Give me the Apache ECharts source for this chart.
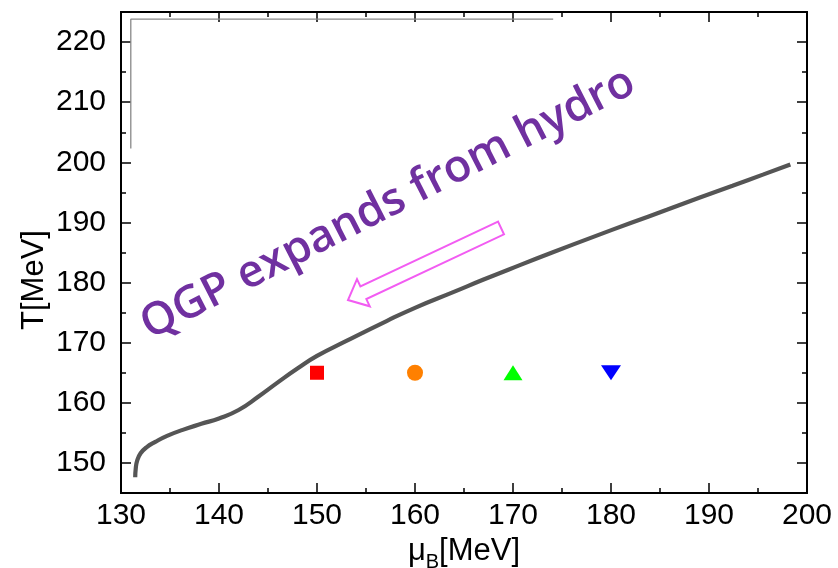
<!DOCTYPE html>
<html>
<head>
<meta charset="utf-8">
<script src="https://cdn.jsdelivr.net/npm/echarts@6/dist/echarts.min.js"></script>
<style>html,body{margin:0;padding:0;background:#fff}#c{width:838px;height:568px}</style>
</head>
<body>
<div id="c"></div>
<script>
// ---- data ----
const curveMu = [131.45,131.5,131.65,132.0,132.6,133.5,134.7,136.3,138.2,140.0,142.0,144.0,146.0,148.0,150.0,153.0,157.1,160.0,163.9,167.0,170.7,174.0,178.2,182.0,185.7,189.0,192.4,195.5,198.3];
const curveT  = [147.6,149.0,150.4,151.6,152.6,153.5,154.5,155.5,156.5,157.4,158.8,161.0,163.4,165.7,167.8,170.3,173.6,175.8,178.4,180.5,182.9,185.0,187.6,189.9,192.1,194.1,196.1,197.95,199.65];
const bracketMu = [131.0,131.0,174.1];
const bracketT  = [202.3,223.8,223.8];
const markerMu = [150,160,170,180];
const markerT  = [165,165,165,165];
const xMin = 130, xMax = 200, xStep = 10;
const yMin = 145, yMax = 225;
const yMajorTicks = [150,160,170,180,190,200,210,220];
const yMinorTicks = [145,155,165,175,185,195,205,215,225];
const annotation = 'QGP expands from hydro';

// ---- build ----
const zip = (a,b) => a.map((v,i)=>[v,b[i]]);
const FONT = '"Liberation Sans", Arial, sans-serif';
const axisLine = {show:true, lineStyle:{color:'#000', width:2}};

function yAx(pos, major, showLabel){
  return {
    type:'value', position:pos, min:yMin, max:yMax, gridIndex:0,
    axisLine: axisLine, splitLine:{show:false},
    axisTick:{show:true, inside:true, length: major?10:5, lineStyle:{color:'#000',width:1.5}, customValues: major?yMajorTicks:yMinorTicks},
    axisLabel:{show:showLabel, customValues: yMajorTicks, margin:15, fontSize:30, color:'#000', fontFamily:FONT}
  };
}
function xAx(pos, showLabel){
  return {
    type:'value', position:pos, min:xMin, max:xMax, interval:xStep,
    axisLine: axisLine, splitLine:{show:false},
    axisTick:{show:true, inside:true, length:10, lineStyle:{color:'#000',width:1.5}},
    minorTick:{show:true, splitNumber:2, length:5, lineStyle:{color:'#000',width:1.5}},
    minorSplitLine:{show:false},
    axisLabel:{show:showLabel, margin:8, fontSize:30, color:'#000', fontFamily:FONT},
    name: showLabel ? '{a|μ}{b|B}{a|[MeV]}' : '',
    nameLocation:'middle', nameGap:14,
    nameTextStyle:{rich:{
      a:{fontSize:31, fontFamily:FONT, color:'#000', lineHeight:36, verticalAlign:'middle'},
      b:{fontSize:20, fontFamily:FONT, color:'#000', lineHeight:43, verticalAlign:'bottom'}
    }}
  };
}

// arrow geometry (annotation, pixel space)
const tail = [501,228], tip = [348,300];
const L = Math.hypot(tip[0]-tail[0], tip[1]-tail[1]);
const u = [(tip[0]-tail[0])/L, (tip[1]-tail[1])/L];
const n = [-u[1], u[0]];
const S = [tail[0]+(L-17)*u[0], tail[1]+(L-17)*u[1]];
const P = (b, k) => [b[0]+k*n[0], b[1]+k*n[1]];
const arrowPts = [P(tail,7), P(S,7), P(S,15), tip, P(S,-15), P(S,-7), P(tail,-7)];

const markerSymbols = ['rect','circle','triangle','triangle'];
const markerColors = ['#ff0000','#ff8000','#00ff00','#0000ff'];
const markerSizes = [[14,14],[16,16],[19,15],[20,15]];
const markerRot = [0,0,0,180];

const series = [
  {type:'line', data: zip(bracketMu,bracketT), showSymbol:false, silent:true,
   lineStyle:{color:'#888', width:1.3}, xAxisIndex:0, yAxisIndex:0, z:1},
  {type:'line', data: zip(curveMu,curveT), showSymbol:false, smooth:0.5,
   lineStyle:{color:'#555', width:4.2}, xAxisIndex:0, yAxisIndex:0, z:2}
];
markerMu.forEach((m,i)=>{
  series.push({type:'scatter', data:[[m, markerT[i]]], symbol:markerSymbols[i],
    symbolSize:markerSizes[i], symbolRotate:markerRot[i],
    itemStyle:{color:markerColors[i], opacity:1}, xAxisIndex:0, yAxisIndex:0, z:3});
});

const chart = echarts.init(document.getElementById('c'), null, {renderer:'canvas'});
chart.setOption({
  animation:false,
  backgroundColor:'#fff',
  grid:{left:121, right:31, top:12, bottom:75, containLabel:false, outerBoundsMode:'none'},
  xAxis:[xAx('bottom', true), xAx('top', false)],
  yAxis:[yAx('left', true, true), yAx('left', false, false), yAx('right', true, false), yAx('right', false, false)],
  series: series,
  graphic:[
    {type:'text', x:34, y:280, rotation:Math.PI/2,
     style:{text:'T[MeV]', fontSize:31, fontFamily:FONT, fill:'#000', align:'center', verticalAlign:'middle'}},
    {type:'text', x:388, y:204, rotation:27*Math.PI/180, z:10,
     style:{text:annotation, fontSize:45, fontWeight:600, fontFamily:'"Open Sans", "Noto Sans", sans-serif', fill:'#7030a0', align:'center', verticalAlign:'middle'}},
    {type:'polygon', z:10, shape:{points:arrowPts},
     style:{fill:'none', stroke:'#f25cf2', lineWidth:2}}
  ]
});
</script>
</body>
</html>
